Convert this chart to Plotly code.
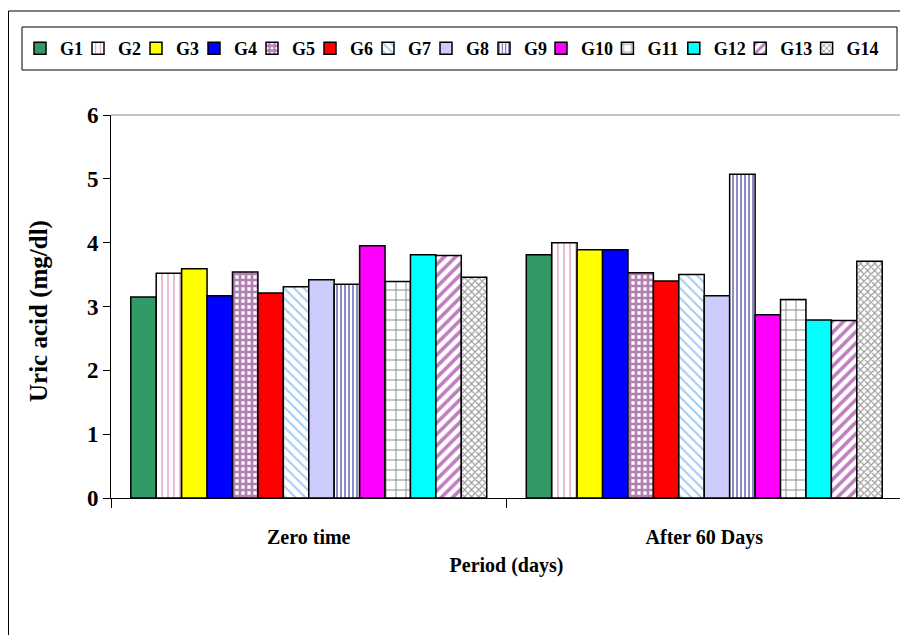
import plotly.graph_objects as go

periods = ["Zero time", "After 60 Days"]
groups = ["G1", "G2", "G3", "G4", "G5", "G6", "G7", "G8", "G9", "G10", "G11", "G12", "G13", "G14"]
zero_time = [3.15, 3.52, 3.59, 3.17, 3.54, 3.21, 3.31, 3.42, 3.35, 3.95, 3.39, 3.81, 3.80, 3.46]
after_60 = [3.81, 4.00, 3.89, 3.89, 3.53, 3.40, 3.50, 3.17, 5.07, 2.87, 3.11, 2.79, 2.78, 3.71]

# style per group: (bgcolor, pattern shape, fgcolor, size, solidity)
styles = [
    ("#339966", "", None, None, None),
    ("#ffffff", "|", "#c8558a", 6, 0.25),
    ("#ffff00", "", None, None, None),
    ("#0000ff", "", None, None, None),
    ("#ffffff", "+", "#660066", 6, 0.7),
    ("#ff0000", "", None, None, None),
    ("#ffffff", "\\", "#4a9ae8", 7, 0.3),
    ("#ccccff", "", None, None, None),
    ("#ffffff", "|", "#000080", 4, 0.45),
    ("#ff00ff", "", None, None, None),
    ("#ffffff", "+", "#111111", 10, 0.18),
    ("#00ffff", "", None, None, None),
    ("#ffffff", "/", "#800080", 8, 0.45),
    ("#ffffff", "x", "#333333", 5, 0.4),
]

# The page body adds an 8px offset; work in figure pixels = reference pixels - 8
OFF = 8
W, H = 900, 627
L, R, T, B = 103, 6, 107, 137
pw, ph = W - L - R, H - T - B

def px_x(x):
    return (x - OFF - L) / pw

def px_y(y):
    return (H - B - (y - OFF)) / ph

fig = go.Figure()
for i, g in enumerate(groups):
    bg, shape, fg, size, sol = styles[i]
    pattern = dict(shape=shape)
    if shape:
        pattern.update(fgcolor=fg, bgcolor=bg, size=size, solidity=sol, fillmode="overlay")
    fig.add_trace(go.Bar(
        name=g,
        x=periods,
        y=[zero_time[i], after_60[i]],
        marker=dict(color=bg, pattern=pattern, line=dict(color="black", width=1.5)),
        legend="legend" if i < 9 else "legend2",
    ))

# invisible spacer entries so the last legend text of each row is not clipped
for lg in ["legend", "legend2"]:
    fig.add_trace(go.Scatter(x=[None], y=[None], mode="markers", name=" ",
                             marker=dict(size=0, color="rgba(0,0,0,0)", opacity=0,
                                         line=dict(width=0, color="rgba(0,0,0,0)")),
                             legend=lg, hoverinfo="skip"))

serif = "Liberation Serif, Times New Roman, serif"
legend_font = dict(family=serif, size=18, color="black", weight="bold")

fig.update_layout(
    width=W, height=H,
    margin=dict(l=L, r=R, t=T, b=B, autoexpand=False),
    paper_bgcolor="white", plot_bgcolor="white",
    barmode="group", bargap=0.1, bargroupgap=0,
    showlegend=True,
    legend=dict(orientation="h", x=px_x(20), xanchor="left", y=px_y(48.5), yanchor="middle",
                font=legend_font, entrywidth=13, entrywidthmode="pixels", itemclick=False,
                bgcolor="rgba(0,0,0,0)", borderwidth=0, traceorder="normal"),
    legend2=dict(orientation="h", x=px_x(541), xanchor="left", y=px_y(48.5), yanchor="middle",
                 font=legend_font, entrywidth=21.4, entrywidthmode="pixels", itemclick=False,
                 bgcolor="rgba(0,0,0,0)", borderwidth=0, traceorder="normal"),
    xaxis=dict(
        showline=True, linecolor="black", linewidth=1,
        ticks="outside", tickson="boundaries", ticklen=9, tickcolor="black",
        tickfont=dict(family=serif, size=20, color="black", weight="bold"),
        ticklabelstandoff=21,
        title=dict(text="Period (days)", font=dict(family=serif, size=20, color="black", weight="bold"), standoff=9),
        showgrid=False, automargin=False,
    ),
    yaxis=dict(
        range=[0, 6], dtick=1, tick0=0,
        showline=True, linecolor="black", linewidth=1,
        ticks="outside", ticklen=7, tickcolor="black",
        tickfont=dict(family=serif, size=23, color="black", weight="bold"),
        showgrid=False, zeroline=False, automargin=False,
    ),
    annotations=[dict(
        text="Uric acid (mg/dl)", textangle=-90, showarrow=False,
        xref="paper", yref="paper", x=px_x(39), y=px_y(311),
        xanchor="center", yanchor="middle",
        font=dict(family=serif, size=25, color="black", weight="bold"),
    )],
    shapes=[
        # plot area top and right border (gray)
        dict(type="line", xref="paper", yref="paper", x0=0, y0=1, x1=1, y1=1, line=dict(color="#8c8c8c", width=1)),
        dict(type="line", xref="paper", yref="paper", x0=1, y0=0, x1=1, y1=1, line=dict(color="#8c8c8c", width=1)),
        # legend box
        dict(type="rect", xref="paper", yref="paper", x0=px_x(22), x1=px_x(897), y0=px_y(70), y1=px_y(27),
             line=dict(color="black", width=1)),
        # outer frame (top and left)
        dict(type="line", xref="paper", yref="paper", x0=px_x(8.5), x1=px_x(920), y0=px_y(11), y1=px_y(11),
             line=dict(color="black", width=1)),
        dict(type="line", xref="paper", yref="paper", x0=px_x(8.5), x1=px_x(8.5), y0=px_y(11), y1=px_y(650),
             line=dict(color="black", width=1)),
    ],
)

fig.write_html("out.html")
